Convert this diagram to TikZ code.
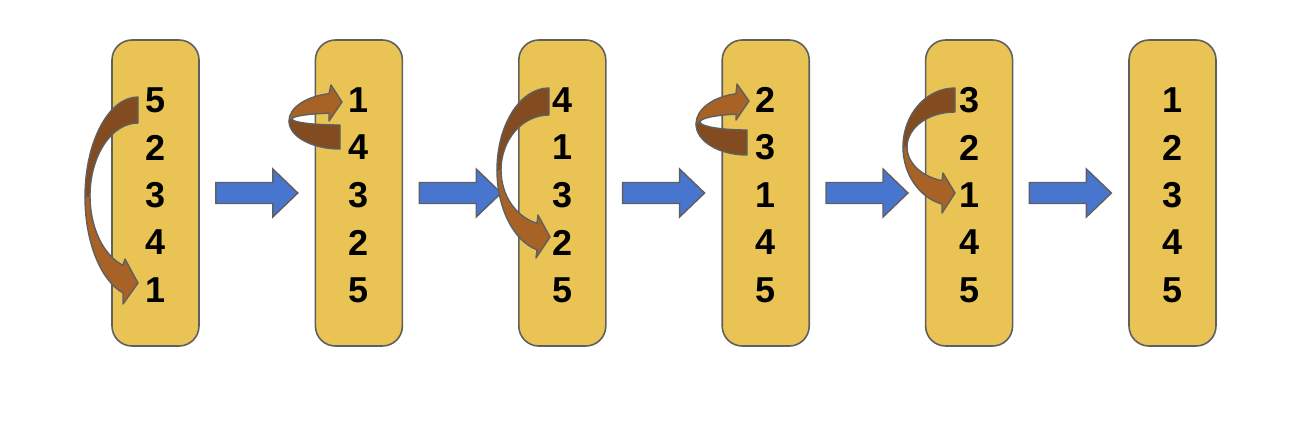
\documentclass[tikz,border=0pt]{standalone}
\usepackage{fontspec}
\setmainfont{Liberation Sans}
\usetikzlibrary{calc}
\definecolor{boxfill}{RGB}{233,196,84}
\definecolor{edgegray}{RGB}{95,95,95}
\definecolor{arrblue}{RGB}{72,117,206}
\definecolor{brownlight}{RGB}{168,98,38}
\definecolor{browndark}{RGB}{130,76,32}
\begin{document}
\begin{tikzpicture}[x=1pt,y=-1pt,
  sortbox/.style={draw=edgegray,line width=1.6pt,fill=boxfill,rounded corners=20pt,
    minimum width=87pt,minimum height=306pt,inner sep=0pt},
  num/.style={font=\fontsize{36}{36}\selectfont\bfseries,inner sep=0pt},
  stepmove/.style={draw=edgegray,line width=1.4pt,fill=arrblue,line join=miter},
  backband/.style={draw=edgegray,line width=1.4pt,fill=browndark,line join=round},
  frontband/.style={draw=edgegray,line width=1.4pt,fill=brownlight,line join=round}]
\useasboundingbox (0,0) rectangle (1316,420);
\foreach \i/\a/\b/\c/\d/\e in {1/5/2/3/4/1, 2/1/4/3/2/5, 3/4/1/3/2/5, 4/2/3/1/4/5, 5/3/2/1/4/5, 6/1/2/3/4/5} {
  \node[sortbox] (b\i) at ({155.5+203.4*(\i-1)},193) {};
  \node[num] (b\i r1) at ({155.5+203.4*(\i-1)},100) {\a};
  \node[num] (b\i r2) at ({155.5+203.4*(\i-1)},147.5) {\b};
  \node[num] (b\i r3) at ({155.5+203.4*(\i-1)},195) {\c};
  \node[num] (b\i r4) at ({155.5+203.4*(\i-1)},242.5) {\d};
  \node[num] (b\i r5) at ({155.5+203.4*(\i-1)},290) {\e};
}
\foreach \i in {1,...,5} {
  \draw[stepmove] ($(b\i.east)+(16,-10.5)$) -- ($(b\i.east)+(73,-10.5)$) -- ($(b\i.east)+(73,-24)$)
    -- ($(b\i.east)+(98,0)$) -- ($(b\i.east)+(73,24)$) -- ($(b\i.east)+(73,10.5)$)
    -- ($(b\i.east)+(16,10.5)$) -- cycle;
}
% arrow 1
\draw[backband] (138,97) arc[start angle=270,end angle=180,x radius=53,y radius=100]
  -- (90,196) arc[start angle=180,end angle=270,x radius=48,y radius=73] -- cycle;
\draw[frontband] (85,197) arc[start angle=180,end angle=106.44,x radius=53,y radius=100]
  -- (123,304) -- (138,283) -- (125,259) -- (123,265.3)
  arc[start angle=108.21,end angle=180,x radius=48,y radius=73] -- cycle;
% arrow 2
\draw[backband] (340,149) arc[start angle=90,end angle=180,x radius=51,y radius=28]
  -- (292,119) arc[start angle=180,end angle=90,x radius=48,y radius=6] -- cycle;
\draw[frontband] (289,121) arc[start angle=180,end angle=257.54,x radius=51,y radius=28]
  -- (331,85) -- (342,102) -- (329,121) -- (329,113.2)
  arc[start angle=256.75,end angle=180,x radius=48,y radius=6] -- cycle;
% arrow 3
\draw[backband] (549,88) arc[start angle=270,end angle=180,x radius=52,y radius=82]
  -- (501,170) arc[start angle=180,end angle=270,x radius=48,y radius=55] -- cycle;
\draw[frontband] (497,170) arc[start angle=180,end angle=103.34,x radius=52,y radius=82]
  -- (536,258) -- (550,237) -- (538,215) -- (537,223.3)
  arc[start angle=104.48,end angle=180,x radius=48,y radius=55] -- cycle;
% arrow 4
\draw[backband] (747,155) arc[start angle=90,end angle=180,x radius=51,y radius=31]
  -- (700,122) arc[start angle=180,end angle=90,x radius=47,y radius=8] -- cycle;
\draw[frontband] (696,124) arc[start angle=180,end angle=257.54,x radius=51,y radius=31]
  -- (737,84) -- (749,101) -- (736,120) -- (736,114.2)
  arc[start angle=256.46,end angle=180,x radius=47,y radius=8] -- cycle;
% arrow 5
\draw[backband] (955,88) arc[start angle=270,end angle=180,x radius=52,y radius=59]
  -- (907,147) arc[start angle=180,end angle=270,x radius=48,y radius=35] -- cycle;
\draw[frontband] (903,147) arc[start angle=180,end angle=104.48,x radius=52,y radius=59]
  -- (942,213) -- (955,193) -- (943,173) -- (942,180.7)
  arc[start angle=105.71,end angle=180,x radius=48,y radius=35] -- cycle;
\end{tikzpicture}
\end{document}
